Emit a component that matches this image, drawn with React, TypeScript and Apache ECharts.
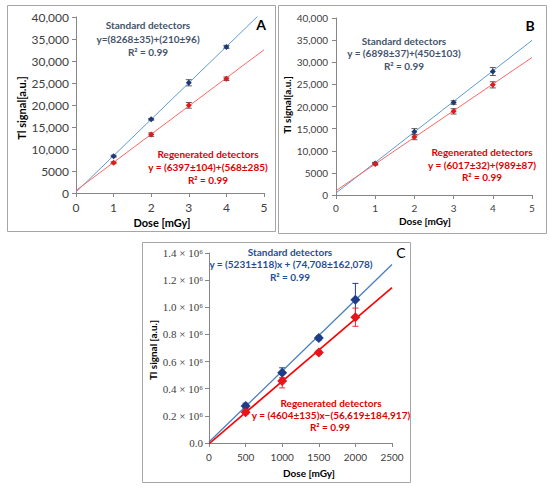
import React, { useEffect, useRef } from "react";
import * as echarts from "echarts";

// ---------- data ----------
const doseAB = [1, 2, 3, 4];
const aStd = [8380, 16760, 25050, 33200];
const aStdErr = [200, 200, 700, 350];
const aReg = [6860, 13270, 19930, 25960];
const aRegErr = [200, 400, 650, 400];
const aStdFit = [[0, 210], [5, 41550]];
const aRegFit = [[0, 568], [5, 32553]];

const bStd = [7140, 14300, 20900, 27900];
const bStdErr = [250, 700, 400, 900];
const bReg = [7000, 13100, 18900, 24900];
const bRegErr = [250, 600, 600, 700];
const bStdFit = [[0, 450], [5, 34940]];
const bRegFit = [[0, 989], [5, 31074]];

const doseC = [500, 1000, 1500, 2000];
const cStd = [273000, 517000, 773000, 1056000];
const cStdErr = [20000, 37000, 15000, 120000];
const cReg = [227000, 456000, 666000, 927000];
const cRegErr = [15000, 50000, 15000, 67000];
const cStdFit = [[0, 7470], [2500, 1315220]];
const cRegFit = [[0, -5662], [2500, 1145338]];

// ---------- helpers ----------
const pts = (xs: number[], ys: number[]) => xs.map((x, i) => [x, ys[i]]);
const errs = (xs: number[], ys: number[], es: number[]) => xs.map((x, i) => [x, ys[i], es[i]]);

const errRender = (color: string, cap: number, width: number) => (_p: any, api: any) => {
  const x = api.value(0), y = api.value(1), e = api.value(2);
  const t = api.coord([x, y + e]);
  const b = api.coord([x, y - e]);
  const st = { stroke: color, lineWidth: width };
  return {
    type: "group",
    children: [
      { type: "line", shape: { x1: t[0], y1: t[1], x2: b[0], y2: b[1] }, style: st },
      { type: "line", shape: { x1: t[0] - cap, y1: t[1], x2: t[0] + cap, y2: t[1] }, style: st },
      { type: "line", shape: { x1: b[0] - cap, y1: b[1], x2: b[0] + cap, y2: b[1] }, style: st },
    ],
  };
};

const AXC = "#868686";
const mkAxis = (gridIndex: number, min: number, max: number, interval: number, fontSize: number, fontFamily: string, margin: number, formatter?: any) => ({
  type: "value",
  gridIndex,
  min,
  max,
  interval,
  axisLine: { show: true, onZero: false, lineStyle: { color: AXC, width: 1 } },
  axisTick: { show: true, length: 4, lineStyle: { color: AXC } },
  splitLine: { show: false },
  axisLabel: { fontSize, fontFamily, color: "#404040", margin, formatter },
});

const fmtPlain = (v: number) => String(v);
const fmtAB = (v: number) => (v < 10000 ? String(v) : v.toLocaleString("en-US"));
const fmtC = (v: number) => (v === 0 ? "0.0" : (v / 1e6).toFixed(1) + " × 10⁶");

const txt = (x: number, y: number, text: string, fill: string, fontSize: number, bold = true, rotation = 0, family = "Lato") => ({
  type: "text",
  x,
  y,
  rotation,
  style: {
    text,
    fill,
    fontSize,
    fontWeight: bold ? "bold" : "normal",
    fontFamily: family,
    textAlign: "center",
    textVerticalAlign: "middle",
  },
});

const box = (x: number, y: number, w: number, h: number) => ({
  type: "rect",
  shape: { x: x + 0.5, y: y + 0.5, width: w, height: h },
  style: { fill: "none", stroke: "#A6A6A6", lineWidth: 1 },
});

const STD_T = "#44546A";
const RED_T = "#E00000";

export default function App() {
  const ref = useRef<HTMLDivElement>(null);
  useEffect(() => {
    if (!ref.current) return;
    const chart = echarts.init(ref.current, undefined, { renderer: "svg" });
    const lineS = (xi: number, data: number[][], color: string, width: number) => ({
      type: "line",
      xAxisIndex: xi,
      yAxisIndex: xi,
      data,
      showSymbol: false,
      symbol: "none",
      clip: true,
      lineStyle: { color, width },
      silent: true,
    });
    const errS = (xi: number, data: number[][], color: string, cap: number, width: number) => ({
      type: "custom",
      xAxisIndex: xi,
      yAxisIndex: xi,
      data,
      encode: { x: 0, y: 1 },
      renderItem: errRender(color, cap, width),
      silent: true,
      z: 3,
    });
    const ptS = (xi: number, data: number[][], color: string, size: any) => ({
      type: "scatter",
      xAxisIndex: xi,
      yAxisIndex: xi,
      data,
      symbol: "diamond",
      symbolSize: size,
      itemStyle: { color, opacity: 1 },
      silent: true,
      z: 4,
    });

    chart.setOption({
      animation: false,
      backgroundColor: "#ffffff",
      grid: [
        { left: 76, top: 17, width: 188, height: 176 },
        { left: 336, top: 18, width: 196, height: 177 },
        { left: 209, top: 253, width: 183, height: 190 },
      ],
      xAxis: [
        mkAxis(0, 0, 5, 1, 12, "Lato", 8, fmtPlain),
        mkAxis(1, 0, 5, 1, 10, "Lato", 8, fmtPlain),
        mkAxis(2, 0, 2500, 500, 10, "Lato", 9, fmtPlain),
      ],
      yAxis: [
        mkAxis(0, 0, 40000, 5000, 12, "Lato", 7, fmtAB),
        mkAxis(1, 0, 40000, 5000, 10, "Lato", 8, fmtAB),
        mkAxis(2, 0, 1400000, 200000, 11, "Liberation Serif", 6, fmtC),
      ],
      series: [
        lineS(0, aStdFit, "#5B9BD5", 1),
        lineS(0, aRegFit, "#FF6666", 1),
        errS(0, errs(doseAB, aStd, aStdErr), "#595959", 3, 1),
        errS(0, errs(doseAB, aReg, aRegErr), "#595959", 3, 1),
        ptS(0, pts(doseAB, aStd), "#1F3A73", 6),
        ptS(0, pts(doseAB, aReg), "#E01A1A", 6),

        lineS(1, bStdFit, "#5B9BD5", 1),
        lineS(1, bRegFit, "#FF6666", 1),
        errS(1, errs(doseAB, bStd, bStdErr), "#595959", 3, 1),
        errS(1, errs(doseAB, bReg, bRegErr), "#595959", 3, 1),
        ptS(1, pts(doseAB, bStd), "#1F3A73", 6),
        ptS(1, pts(doseAB, bReg), "#E01A1A", 6),

        lineS(2, cStdFit, "#4A7EBB", 1.3),
        lineS(2, cRegFit, "#FF0000", 1.6),
        errS(2, errs(doseC, cStd, cStdErr), "#1F3C88", 3, 1),
        errS(2, errs(doseC, cReg, cRegErr), "#E03030", 3, 1),
        ptS(2, pts(doseC, cStd), "#1F3C88", 10),
        ptS(2, pts(doseC, cReg), "#E8141B", 10),
      ],
      graphic: [
        box(7, 5, 268, 226),
        box(278, 5, 268, 228),
        box(142, 242, 268, 240),
        // panel A
        txt(261, 24, "A", "#000", 14),
        txt(148, 25, "Standard detectors", STD_T, 10),
        txt(148, 39, "y=(8268±35)+(210±96)", STD_T, 10),
        txt(148, 52, "R² = 0.99", STD_T, 10),
        txt(208, 154, "Regenerated detectors", RED_T, 10),
        txt(208, 167, "y = (6397±104)+(568±285)", RED_T, 10),
        txt(208, 180, "R² = 0.99", RED_T, 10),
        txt(21, 108, "Tl signal[a.u.]", "#000", 11, true, Math.PI / 2),
        txt(162, 222, "Dose [mGy]", "#000", 11),
        // panel B
        txt(530, 25, "B", "#000", 14),
        txt(404, 41, "Standard detectors", STD_T, 10),
        txt(404, 53, "y = (6898±37)+(450±103)", STD_T, 10),
        txt(404, 66, "R² = 0.99", STD_T, 10),
        txt(482, 152, "Regenerated detectors", RED_T, 10),
        txt(482, 165, "y = (6017±32)+(989±87)", RED_T, 10),
        txt(482, 177, "R² = 0.99", RED_T, 10),
        txt(287, 105, "Tl signal[a.u.]", "#000", 10, true, Math.PI / 2),
        txt(425, 221, "Dose [mGy]", "#000", 10),
        // panel C
        txt(401, 252, "C", "#000", 14, false),
        txt(290, 252, "Standard detectors", "#1F4E9A", 10),
        txt(291, 264, "y = (5231±118)x + (74,708±162,078)", "#1F4E9A", 10),
        txt(290, 277, "R² = 0.99", "#1F4E9A", 10),
        txt(331, 403, "Regenerated detectors", RED_T, 10),
        txt(331, 415, "y = (4604±135)x−(56,619±184,917)", RED_T, 10),
        txt(330, 427, "R² = 0.99", RED_T, 10),
        txt(153, 350, "Tl signal [a.u.]", "#000", 10, true, Math.PI / 2),
        txt(309, 473, "Dose [mGy]", "#000", 10),
      ],
    });
    return () => chart.dispose();
  }, []);
  return <div ref={ref} style={{ position: "absolute", left: 0, top: 0, width: 550, height: 491 }} />;
}
